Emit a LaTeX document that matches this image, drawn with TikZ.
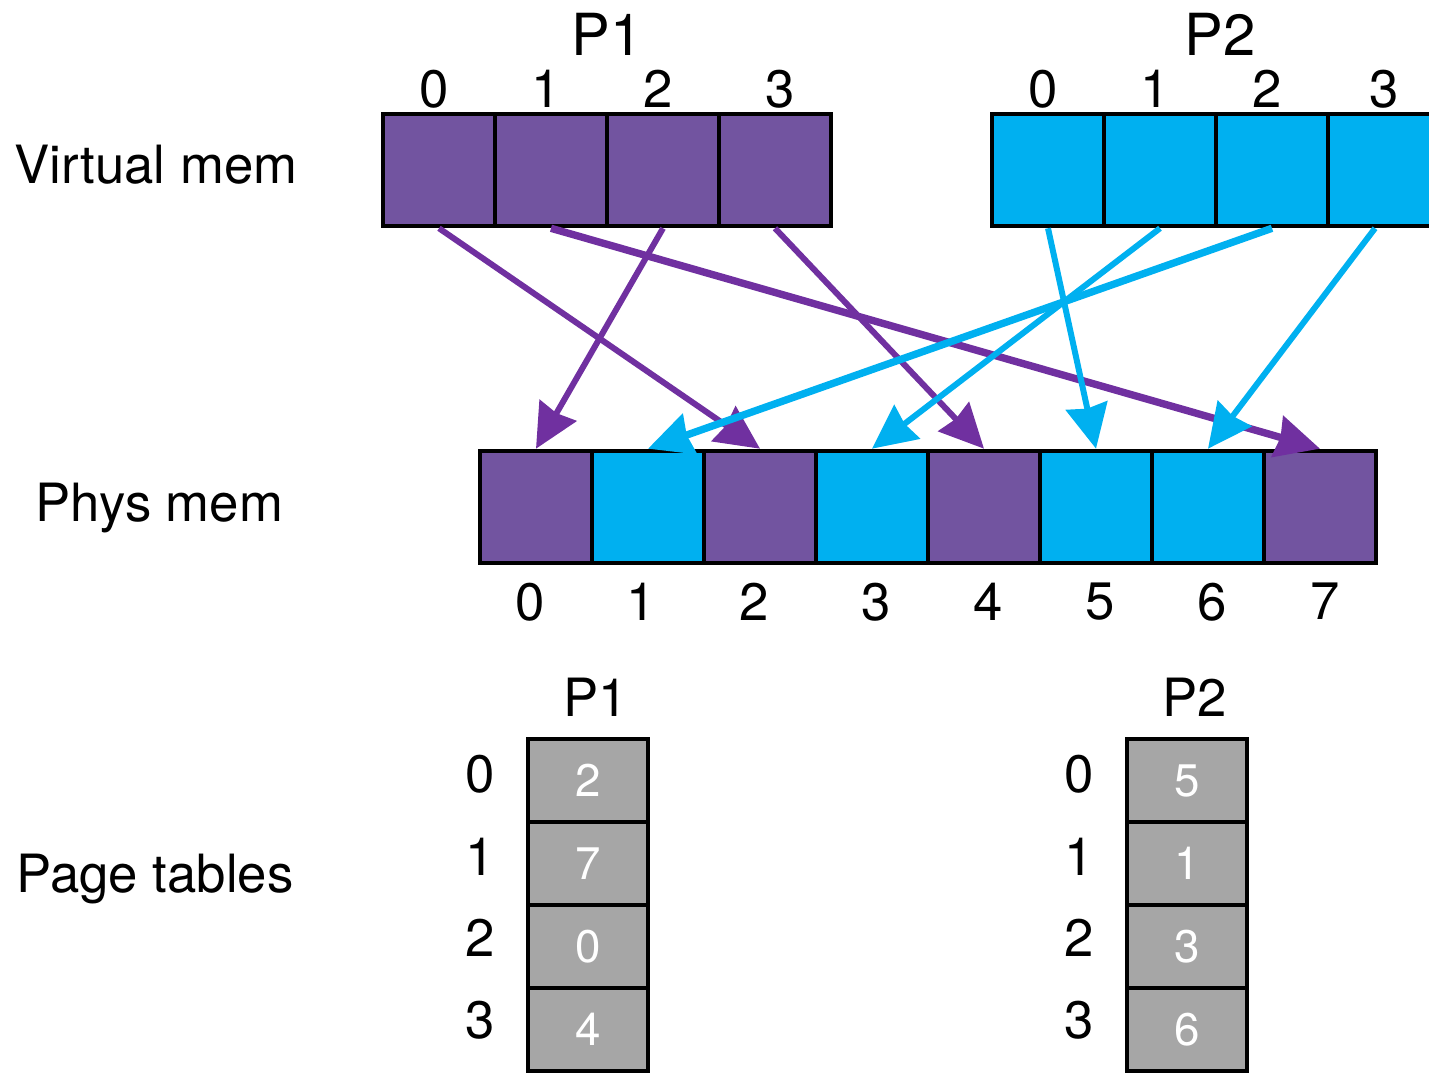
\documentclass[tikz,border=0pt]{standalone}
\usepackage{fontspec}
\setmainfont{TeX Gyre Heros}
\usetikzlibrary{positioning,arrows.meta}
\definecolor{vpurple}{RGB}{114,84,160}
\definecolor{apurple}{RGB}{112,48,160}
\definecolor{vcyan}{RGB}{0,176,240}
\definecolor{ptgray}{RGB}{166,166,166}

\begin{document}
\begin{tikzpicture}[
    cell/.style={draw, line width=1.3pt, minimum width=1.12cm, minimum height=1.12cm, inner sep=0pt},
    pcell/.style={cell, fill=vpurple},
    ccell/.style={cell, fill=vcyan},
    ptcell/.style={draw, line width=1.3pt, fill=ptgray, minimum width=1.2cm, minimum height=0.83cm, inner sep=0pt, text=white, font=\fontsize{13pt}{15pt}\selectfont},
    lbl/.style={inner sep=0pt, font=\fontsize{15pt}{18pt}\selectfont},
    title/.style={inner sep=0pt, font=\fontsize{16.5pt}{20pt}\selectfont},
    maparrow/.style={-{Stealth[length=0.44cm,width=0.42cm,inset=0.03cm]}, line width=1.7pt},
  ]
    \useasboundingbox (0,0) rectangle (14.29,-10.75);
    \node[lbl, anchor=base west] (virtlbl) at (0.14,-1.84) {Virtual mem};
    \node[lbl, anchor=base west] (physlbl) at (0.35,-5.22) {Phys mem};
    \node[lbl, anchor=base west] (ptlbl) at (0.16,-8.93) {Page tables};
    \node[title] (p1title) at (6.07,-0.34) {P1};
    \node[title] (p2title) at (12.20,-0.34) {P2};
    \node[pcell] (p1v0) at (4.39,-1.70) {};
    \node[pcell] (p1v1) at (5.51,-1.70) {};
    \node[pcell] (p1v2) at (6.63,-1.70) {};
    \node[pcell] (p1v3) at (7.75,-1.70) {};
    \node[ccell] (p2v0) at (10.48,-1.70) {};
    \node[ccell] (p2v1) at (11.60,-1.70) {};
    \node[ccell] (p2v2) at (12.72,-1.70) {};
    \node[ccell] (p2v3) at (13.84,-1.70) {};
    \node[lbl, above=0.03cm of p1v0, xshift=-0.05cm] {0};
    \node[lbl, above=0.03cm of p1v1, xshift=-0.05cm] {1};
    \node[lbl, above=0.03cm of p1v2, xshift=-0.05cm] {2};
    \node[lbl, above=0.03cm of p1v3, xshift=0.05cm] {3};
    \node[lbl, above=0.03cm of p2v0, xshift=-0.05cm] {0};
    \node[lbl, above=0.03cm of p2v1, xshift=-0.05cm] {1};
    \node[lbl, above=0.03cm of p2v2, xshift=-0.05cm] {2};
    \node[lbl, above=0.03cm of p2v3] {3};
    \node[pcell] (ph0) at (5.36,-5.07) {};
    \node[ccell] (ph1) at (6.48,-5.07) {};
    \node[pcell] (ph2) at (7.60,-5.07) {};
    \node[ccell] (ph3) at (8.72,-5.07) {};
    \node[pcell] (ph4) at (9.84,-5.07) {};
    \node[ccell] (ph5) at (10.96,-5.07) {};
    \node[ccell] (ph6) at (12.08,-5.07) {};
    \node[pcell] (ph7) at (13.20,-5.07) {};
    \node[lbl, below=0.17cm of ph0, xshift=-0.06cm] {0};
    \node[lbl, below=0.17cm of ph1, xshift=-0.07cm] {1};
    \node[lbl, below=0.17cm of ph2, xshift=-0.06cm] {2};
    \node[lbl, below=0.17cm of ph3, xshift=0.04cm] {3};
    \node[lbl, below=0.17cm of ph4, xshift=0.04cm] {4};
    \node[lbl, below=0.17cm of ph5, xshift=0.04cm] {5};
    \node[lbl, below=0.17cm of ph6, xshift=0.04cm] {6};
    \node[lbl, below=0.17cm of ph7, xshift=0.05cm] {7};
    \draw[maparrow, apurple] (p1v0.south) -- (ph2.north);
    \draw[maparrow, apurple, line width=2.1pt] (p1v1.south) -- (ph7.north);
    \draw[maparrow, apurple] (p1v2.south) -- (ph0.north);
    \draw[maparrow, apurple] (p1v3.south) -- (ph4.north);
    \draw[maparrow, vcyan] (p2v0.south) -- (ph5.north);
    \draw[maparrow, vcyan] (p2v1.south) -- (ph3.north);
    \draw[maparrow, vcyan, line width=2.1pt] (p2v2.south) -- (ph1.north);
    \draw[maparrow, vcyan] ([xshift=-0.09cm]p2v3.south) -- (ph6.north);
    \node[ptcell] (t1r0) at (5.88,-7.805) {\raisebox{-0.04cm}{2}};
    \node[ptcell] (t1r1) at (5.88,-8.635) {7};
    \node[ptcell] (t1r2) at (5.88,-9.465) {0};
    \node[ptcell] (t1r3) at (5.88,-10.295) {4};
    \node[ptcell] (t2r0) at (11.87,-7.805) {\raisebox{-0.04cm}{5}};
    \node[ptcell] (t2r1) at (11.87,-8.635) {1};
    \node[ptcell] (t2r2) at (11.87,-9.465) {3};
    \node[ptcell] (t2r3) at (11.87,-10.295) {6};
    \node[lbl, above=0.2cm of t1r0, xshift=0.08cm] (t1title) {P1};
    \node[lbl, above=0.2cm of t2r0, xshift=0.08cm] (t2title) {P2};
    \node[lbl, left=0.3cm of t1r0, yshift=0.06cm] {0};
    \node[lbl, left=0.3cm of t1r1, yshift=0.07cm] {1};
    \node[lbl, left=0.3cm of t1r2, yshift=0.09cm] {2};
    \node[lbl, left=0.3cm of t1r3, yshift=0.09cm] {3};
    \node[lbl, left=0.3cm of t2r0, yshift=0.06cm] {0};
    \node[lbl, left=0.3cm of t2r1, yshift=0.07cm] {1};
    \node[lbl, left=0.3cm of t2r2, yshift=0.09cm] {2};
    \node[lbl, left=0.3cm of t2r3, yshift=0.09cm] {3};
\end{tikzpicture}
\end{document}
